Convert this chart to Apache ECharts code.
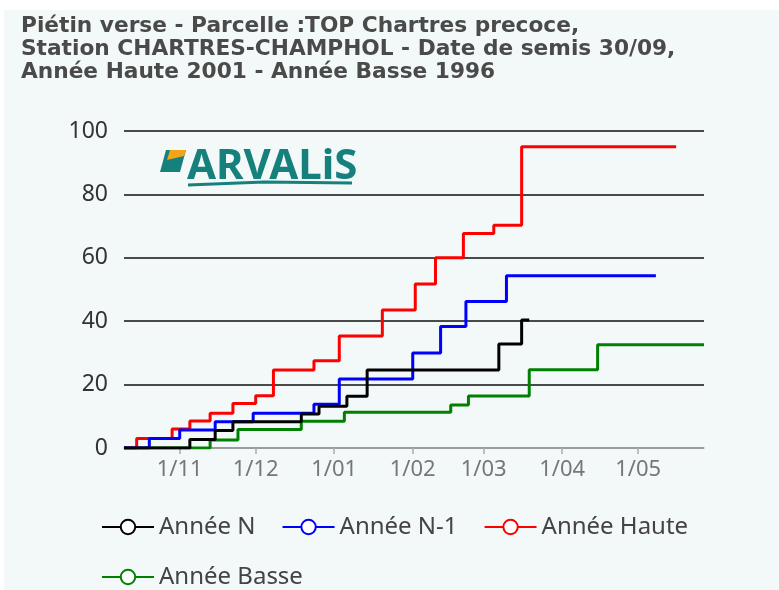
<!DOCTYPE html>
<html>
<head>
<meta charset="utf-8">
<script src="https://cdn.jsdelivr.net/npm/echarts@6/dist/echarts.min.js"></script>
<style>
  body { margin: 0; background: #ffffff; }
  #main { position: absolute; left: 4px; top: 10px; width: 775px; height: 580px; background: #f3f8f8; }
</style>
</head>
<body>
<div id="main"></div>
<script>
// dates de changement (step) et valeurs cumulées
var datesN = ['2022-10-10', '2022-11-05', '2022-11-15', '2022-11-22', '2022-12-19', '2022-12-26', '2023-01-06', '2023-01-14', '2023-03-07', '2023-03-16', '2023-03-19'];
var valuesN = [0, 2.7, 5.5, 8.3, 10.7, 13.2, 16.3, 24.6, 32.8, 40.4, 40.4];

var datesN1 = ['2022-10-10', '2022-10-20', '2022-11-01', '2022-11-15', '2022-11-30', '2022-12-24', '2023-01-03', '2023-02-01', '2023-02-12', '2023-02-22', '2023-03-10', '2023-05-08'];
var valuesN1 = [0, 3, 5.7, 8.3, 11, 13.8, 21.8, 30, 38.3, 46.2, 54.3, 54.3];

var datesHaute = ['2022-10-10', '2022-10-15', '2022-10-29', '2022-11-05', '2022-11-13', '2022-11-22', '2022-12-01', '2022-12-08', '2022-12-24', '2023-01-03', '2023-01-20', '2023-02-02', '2023-02-10', '2023-02-21', '2023-03-05', '2023-03-16', '2023-05-16'];
var valuesHaute = [0, 3, 6, 8.5, 11, 14, 16.5, 24.6, 27.5, 35.3, 43.5, 51.7, 60, 67.7, 70.3, 95, 95];

var datesBasse = ['2022-10-10', '2022-11-13', '2022-11-24', '2022-12-19', '2023-01-05', '2023-02-16', '2023-02-23', '2023-03-19', '2023-04-15', '2023-05-27'];
var valuesBasse = [0, 2.5, 5.8, 8.4, 11.3, 13.6, 16.4, 24.7, 32.6, 32.6];

// ticks mensuels
var monthTicks = ['2022-11-01', '2022-12-01', '2023-01-01', '2023-02-01', '2023-03-01', '2023-04-01', '2023-05-01'];

function toTime(s) {
    var p = s.split('-');
    return Date.UTC(+p[0], +p[1] - 1, +p[2]);
}
function pairs(dates, vals) {
    var out = [];
    for (var i = 0; i < dates.length; i++) {
        out.push([toTime(dates[i]), vals[i]]);
    }
    return out;
}

var chart = echarts.init(document.getElementById('main'));

var teal = '#16807d';

option = {
    animation: false,
    textStyle: { fontFamily: 'Noto Sans' },
    title: {
        text: 'Piétin verse - Parcelle :TOP Chartres precoce,\nStation CHARTRES-CHAMPHOL - Date de semis 30/09,\nAnnée Haute 2001 - Année Basse 1996',
        left: 12,
        top: 0,
        textStyle: {
            fontFamily: 'DejaVu Sans',
            fontSize: 21.7,
            fontWeight: 'bold',
            color: '#4a4a4a',
            lineHeight: 23
        }
    },
    legend: {
        data: ['Année N', 'Année N-1', 'Année Haute', 'Année Basse'],
        left: 92,
        top: 500,
        itemWidth: 52,
        itemHeight: 18,
        itemGap: 26,
        textStyle: { fontSize: 24, color: '#444' }
    },
    grid: {
        left: 120,
        right: 75,
        top: 121,
        bottom: 142,
        containLabel: false
    },
    xAxis: {
        type: 'value',
        min: toTime('2022-10-10'),
        max: toTime('2023-05-27'),
        axisLine: { show: true, onZero: false, lineStyle: { color: '#b5b5b5', width: 1.5 } },
        axisTick: {
            show: true,
            length: 6,
            lineStyle: { color: '#aaaaaa', width: 1.5 },
            customValues: monthTicks.map(toTime)
        },
        axisLabel: {
            customValues: monthTicks.map(toTime),
            color: '#777',
            fontSize: 22,
            margin: 11,
            formatter: function (v) {
                var d = new Date(v);
                var m = d.getUTCMonth() + 1;
                return d.getUTCDate() + '/' + (m < 10 ? '0' + m : m);
            }
        },
        splitLine: { show: false }
    },
    yAxis: {
        type: 'value',
        min: 0,
        max: 100,
        interval: 20,
        axisLine: { show: false },
        axisTick: { show: false },
        axisLabel: { color: '#333', fontSize: 23, margin: 16 },
        splitLine: { lineStyle: { color: '#111', width: 1.5 } }
    },
    graphic: [
        { type: 'polygon', shape: { points: [[162, 140], [182, 140], [176, 162], [156, 162]] }, style: { fill: teal } },
        { type: 'polygon', shape: { points: [[166, 140], [182, 140], [180, 146], [163, 150]] }, style: { fill: '#f2a51a' } },
        { type: 'text', left: 183, top: 136, style: { text: 'ARVALiS', fill: teal, font: 'bold 42px "Noto Sans"' } },
        { type: 'polyline', shape: { points: [[184, 175], [260, 172], [348, 173]] }, style: { stroke: teal, lineWidth: 3, fill: null } }
    ],
    series: [
        {
            name: 'Année N',
            type: 'line',
            step: 'end',
            symbol: 'emptyCircle',
            showSymbol: false,
            data: pairs(datesN, valuesN),
            itemStyle: { color: '#000000' },
            lineStyle: { color: '#000000', width: 3 },
            z: 5
        },
        {
            name: 'Année N-1',
            type: 'line',
            step: 'end',
            symbol: 'emptyCircle',
            showSymbol: false,
            data: pairs(datesN1, valuesN1),
            itemStyle: { color: '#0000ff' },
            lineStyle: { color: '#0000ff', width: 3 },
            z: 4
        },
        {
            name: 'Année Haute',
            type: 'line',
            step: 'end',
            symbol: 'emptyCircle',
            showSymbol: false,
            data: pairs(datesHaute, valuesHaute),
            itemStyle: { color: '#ff0000' },
            lineStyle: { color: '#ff0000', width: 3 },
            z: 3
        },
        {
            name: 'Année Basse',
            type: 'line',
            step: 'end',
            symbol: 'emptyCircle',
            showSymbol: false,
            data: pairs(datesBasse, valuesBasse),
            itemStyle: { color: '#008000' },
            lineStyle: { color: '#008000', width: 3 },
            z: 2
        }
    ]
};
chart.setOption(option);
</script>
</body>
</html>
